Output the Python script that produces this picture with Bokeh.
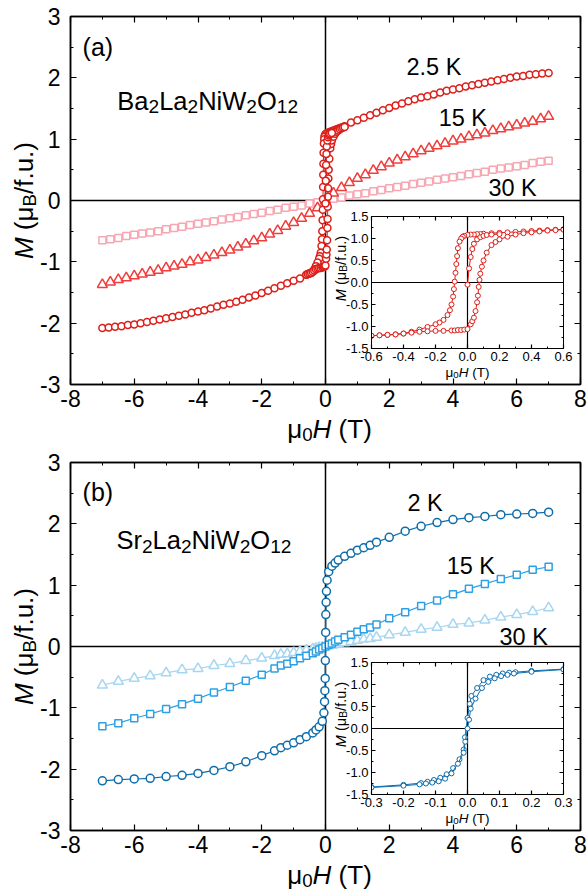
import math
from bokeh.plotting import figure
from bokeh.models import (Range1d, LinearAxis, FixedTicker, Span, Label, GridBox,
                          NumeralTickFormatter)
from bokeh.embed import file_html
from bokeh.resources import INLINE

FONT = "Liberation Sans"

# ------------------------------------------------------------------ data
# axis ticks
main_x_ticks = [-8, -6, -4, -2, 0, 2, 4, 6, 8]
main_x_minor = [-7, -5, -3, -1, 1, 3, 5, 7]
main_y_ticks = [-3, -2, -1, 0, 1, 2, 3]
main_y_minor = [-2.5, -1.5, -0.5, 0.5, 1.5, 2.5]
ins_a_x_ticks = [-0.6, -0.4, -0.2, 0.0, 0.2, 0.4, 0.6]
ins_a_x_minor = [-0.5, -0.3, -0.1, 0.1, 0.3, 0.5]
ins_b_x_ticks = [-0.3, -0.2, -0.1, 0.0, 0.1, 0.2, 0.3]
ins_b_x_minor = [-0.25, -0.15, -0.05, 0.05, 0.15, 0.25]
ins_y_ticks = [-1.5, -1.0, -0.5, 0.0, 0.5, 1.0, 1.5]
ins_y_minor = [-1.25, -0.75, -0.25, 0.25, 0.75, 1.25]

# Panel (a) Ba2La2NiW2O12, 2.5 K high-field parts
a25_neg_H = [-7.0, -6.8, -6.6, -6.4, -6.2, -6.0, -5.8, -5.6, -5.4, -5.2, -5.0, -4.8, -4.6, -4.4, -4.2, -4.0,
             -3.8, -3.6, -3.4, -3.2, -3.0, -2.8, -2.6, -2.4, -2.2, -2.0, -1.8, -1.6, -1.4, -1.2, -1.0, -0.8]
a25_neg_M = [-2.08, -2.07, -2.06, -2.05, -2.03, -2.02, -2.00, -1.98, -1.96, -1.94, -1.92, -1.90, -1.88, -1.86, -1.83, -1.81,
             -1.79, -1.76, -1.73, -1.70, -1.68, -1.65, -1.62, -1.58, -1.55, -1.51, -1.47, -1.43, -1.39, -1.35, -1.31, -1.27]
a25_pos_H = [0.8, 1.0, 1.2, 1.4, 1.6, 1.8, 2.0, 2.2, 2.4, 2.6, 2.8, 3.0, 3.2, 3.4, 3.6, 3.8,
             4.0, 4.2, 4.4, 4.6, 4.8, 5.0, 5.2, 5.4, 5.6, 5.8, 6.0, 6.2, 6.4, 6.6, 6.8, 7.0]
a25_pos_M = [1.27, 1.31, 1.35, 1.39, 1.43, 1.47, 1.51, 1.55, 1.58, 1.62, 1.65, 1.68, 1.70, 1.73, 1.76, 1.79,
             1.81, 1.83, 1.86, 1.88, 1.90, 1.92, 1.94, 1.96, 1.98, 2.00, 2.02, 2.03, 2.05, 2.06, 2.07, 2.08]

# Panel (a) 2.5 K low-field loop (inset)
a_virgin_H = [0.0, 0.01, 0.02, 0.03, 0.04, 0.06, 0.08, 0.10, 0.12, 0.15, 0.20]
a_virgin_M = [-0.05, 0.32, 0.58, 0.76, 0.88, 0.98, 1.03, 1.06, 1.08, 1.09, 1.10]
a_down_H = [0.6, 0.55, 0.5, 0.45, 0.4, 0.35, 0.3, 0.25, 0.2, 0.15, 0.1, 0.08, 0.06, 0.04, 0.02, 0.0,
            -0.02, -0.03, -0.04, -0.05, -0.06, -0.065, -0.07, -0.075, -0.08, -0.085, -0.09, -0.1, -0.11,
            -0.125, -0.15, -0.175, -0.2, -0.25, -0.3, -0.35, -0.4, -0.45, -0.5, -0.55, -0.6]
a_down_M = [1.21, 1.20, 1.19, 1.18, 1.17, 1.16, 1.15, 1.14, 1.13, 1.12, 1.11, 1.10, 1.10, 1.09, 1.09, 1.08,
            1.06, 1.04, 1.00, 0.93, 0.78, 0.60, 0.42, 0.22, 0.02, -0.15, -0.32, -0.50, -0.63,
            -0.74, -0.85, -0.91, -0.95, -1.01, -1.07, -1.12, -1.16, -1.18, -1.19, -1.20, -1.21]
a_up_H = [-0.6, -0.55, -0.5, -0.45, -0.4, -0.35, -0.3, -0.25, -0.2, -0.15, -0.1, -0.08, -0.06, -0.04, -0.02, 0.0,
          0.02, 0.03, 0.04, 0.05, 0.06, 0.065, 0.07, 0.075, 0.08, 0.09, 0.1, 0.12, 0.15, 0.175, 0.2,
          0.25, 0.3, 0.35, 0.4, 0.45, 0.5, 0.55, 0.6]
a_up_M = [-1.21, -1.20, -1.19, -1.18, -1.16, -1.14, -1.12, -1.11, -1.10, -1.10, -1.09, -1.09, -1.08, -1.08, -1.07, -1.06,
          -0.95, -0.88, -0.80, -0.65, -0.45, -0.30, -0.10, 0.06, 0.20, 0.36, 0.50, 0.68, 0.85, 0.92, 0.98,
          1.04, 1.09, 1.12, 1.14, 1.16, 1.18, 1.19, 1.20]

# Panel (a) 15 K and 30 K
a_H = [-7.0, -6.75, -6.5, -6.25, -6.0, -5.75, -5.5, -5.25, -5.0, -4.75, -4.5, -4.25, -4.0, -3.75, -3.5, -3.25,
       -3.0, -2.75, -2.5, -2.25, -2.0, -1.75, -1.5, -1.25, -1.0, -0.75, -0.5, -0.25, 0.0,
       0.25, 0.5, 0.75, 1.0, 1.25, 1.5, 1.75, 2.0, 2.25, 2.5, 2.75, 3.0, 3.25, 3.5, 3.75, 4.0,
       4.25, 4.5, 4.75, 5.0, 5.25, 5.5, 5.75, 6.0, 6.25, 6.5, 6.75, 7.0]
a15_M = [-1.37, -1.33, -1.29, -1.26, -1.23, -1.20, -1.17, -1.14, -1.10, -1.07, -1.04, -1.00, -0.97, -0.93, -0.89, -0.85,
         -0.81, -0.76, -0.71, -0.66, -0.61, -0.55, -0.49, -0.42, -0.36, -0.29, -0.21, -0.12, 0.0,
         0.12, 0.21, 0.29, 0.36, 0.42, 0.49, 0.55, 0.61, 0.66, 0.71, 0.76, 0.81, 0.85, 0.89, 0.93, 0.97,
         1.00, 1.04, 1.07, 1.10, 1.14, 1.17, 1.20, 1.23, 1.26, 1.29, 1.33, 1.37]
a30_M = [-0.65, -0.63, -0.61, -0.58, -0.56, -0.54, -0.52, -0.50, -0.47, -0.45, -0.43, -0.40, -0.38, -0.36, -0.34, -0.31,
         -0.29, -0.27, -0.24, -0.22, -0.20, -0.17, -0.15, -0.12, -0.10, -0.08, -0.05, -0.03, 0.0,
         0.03, 0.05, 0.08, 0.10, 0.12, 0.15, 0.17, 0.20, 0.22, 0.24, 0.27, 0.29, 0.31, 0.34, 0.36, 0.38,
         0.40, 0.43, 0.45, 0.47, 0.50, 0.52, 0.54, 0.56, 0.58, 0.61, 0.63, 0.65]

# Panel (b) Sr2La2NiW2O12
b2_H = [-7.0, -6.5, -6.0, -5.5, -5.0, -4.5, -4.0, -3.5, -3.0, -2.5, -2.0, -1.6, -1.4, -1.2, -1.0, -0.8, -0.6,
        -0.4, -0.3, -0.2, -0.1, -0.05, -0.03, -0.02, -0.01, -0.005,
        0.005, 0.01, 0.02, 0.03, 0.05, 0.1, 0.2, 0.3, 0.4, 0.6, 0.8, 1.0, 1.2, 1.4, 1.6, 2.0,
        2.5, 3.0, 3.5, 4.0, 4.5, 5.0, 5.5, 6.0, 6.5, 7.0]
b2_M = [-2.19, -2.17, -2.16, -2.15, -2.12, -2.10, -2.07, -2.02, -1.96, -1.88, -1.78, -1.70, -1.65, -1.61, -1.57, -1.52, -1.47,
        -1.41, -1.36, -1.31, -1.22, -1.08, -0.90, -0.72, -0.52, -0.23,
        0.23, 0.52, 0.72, 0.90, 1.08, 1.22, 1.31, 1.36, 1.41, 1.47, 1.52, 1.57, 1.61, 1.65, 1.70, 1.78,
        1.88, 1.96, 2.02, 2.07, 2.10, 2.12, 2.15, 2.16, 2.17, 2.19]
b_H = [-7.0, -6.5, -6.0, -5.5, -5.0, -4.5, -4.0, -3.5, -3.0, -2.5, -2.0, -1.6, -1.4, -1.2, -1.0, -0.8, -0.6,
       -0.4, -0.3, -0.2, -0.1, 0.0, 0.1, 0.2, 0.3, 0.4, 0.6, 0.8, 1.0, 1.2, 1.4, 1.6, 2.0,
       2.5, 3.0, 3.5, 4.0, 4.5, 5.0, 5.5, 6.0, 6.5, 7.0]
b15_M = [-1.30, -1.25, -1.17, -1.10, -1.02, -0.94, -0.85, -0.75, -0.66, -0.56, -0.46, -0.36, -0.31, -0.28, -0.24, -0.19, -0.15,
         -0.11, -0.08, -0.05, -0.03, 0.0, 0.03, 0.05, 0.08, 0.11, 0.15, 0.19, 0.24, 0.28, 0.31, 0.36, 0.46,
         0.56, 0.66, 0.75, 0.85, 0.94, 1.02, 1.10, 1.17, 1.25, 1.30]
b30_M = [-0.63, -0.57, -0.52, -0.48, -0.43, -0.38, -0.36, -0.31, -0.28, -0.23, -0.19, -0.15, -0.13, -0.12, -0.10, -0.08, -0.06,
         -0.04, -0.03, -0.02, -0.01, 0.0, 0.01, 0.02, 0.03, 0.04, 0.06, 0.08, 0.10, 0.12, 0.13, 0.15, 0.19,
         0.23, 0.28, 0.31, 0.36, 0.38, 0.43, 0.48, 0.52, 0.57, 0.63]

# Panel (b) 2 K low-field loop (inset)
b_down_H = [0.3, 0.2, 0.15, 0.13, 0.11, 0.09, 0.07, 0.05, 0.03, 0.012, 0.007, 0.0, -0.008, -0.012, -0.025,
            -0.045, -0.065, -0.085, -0.105, -0.125, -0.145, -0.2, -0.3]
b_down_M = [1.35, 1.31, 1.28, 1.27, 1.25, 1.22, 1.18, 1.10, 0.92, 0.74, 0.56, 0.24, -0.20, -0.48, -0.70,
            -0.90, -1.04, -1.12, -1.17, -1.21, -1.24, -1.28, -1.33]
b_up_H = [-0.3, -0.2, -0.15, -0.13, -0.11, -0.09, -0.07, -0.05, -0.03, -0.012, -0.007, 0.0, 0.005, 0.01, 0.025,
          0.045, 0.065, 0.085, 0.105, 0.125, 0.145, 0.2, 0.3]
b_up_M = [-1.34, -1.30, -1.27, -1.25, -1.23, -1.20, -1.14, -1.02, -0.80, -0.55, -0.30, 0.0, 0.20, 0.45, 0.68,
          0.92, 1.06, 1.14, 1.19, 1.22, 1.25, 1.29, 1.34]

# colours
A_C25, A_C15, A_C30 = "#DC1F1A", "#EF3E3C", "#F6A7B3"
B_C2, B_C15, B_C30 = "#0E6DAB", "#2DA0E3", "#A6D6F2"

# ------------------------------------------------------------------ helpers
AW = {'B': 667, 'a': 556, 'L': 556, 'N': 722, 'i': 222, 'W': 944, 'O': 778, 'S': 667, 'r': 333,
      '(': 333, ')': 333, ' ': 278, 'K': 667, '.': 278, 'μ': 576, 'H': 722, 'T': 611, 'M': 833,
      '/': 278, 'f': 278, 'u': 556, 'b': 556}


def tw(s, fs):
    return sum(AW.get(c, 556) for c in s) / 1000.0 * fs


def add_run(p, x, y, pieces, fs, angle=0.0, align="left", sub_scale=0.72, sub_drop=0.22):
    """pieces: (text, kind) with kind n=normal, i=italic, s=subscript, g=gap"""
    sizes = [fs * sub_scale if k == "s" else fs for t, k in pieces]
    total = sum(tw(t, s) for (t, k), s in zip(pieces, sizes))
    pos = -total / 2.0 if align == "center" else 0.0
    for (t, k), s in zip(pieces, sizes):
        if k != "g":
            drop = fs * sub_drop if k == "s" else 0.0
            if angle == 0:
                xo, yo = pos, -drop
            else:
                xo, yo = drop, pos
            p.add_layout(Label(x=x, y=y, x_offset=xo, y_offset=yo, text=t, angle=angle,
                               text_font=FONT, text_font_size=f"{s:.1f}px",
                               text_font_style="italic" if k == "i" else "normal",
                               text_baseline="alphabetic", text_align="left", text_color="black"))
        pos += tw(t, s)


def style_axis(ax, ticks, minor, fs, standoff, tin, tmin, show=True, fmt=None):
    ax.ticker = FixedTicker(ticks=ticks, minor_ticks=minor)
    ax.major_tick_in = tin
    ax.major_tick_out = 0
    ax.minor_tick_in = tmin
    ax.minor_tick_out = 0
    ax.major_tick_line_color = "black"
    ax.minor_tick_line_color = "black"
    ax.major_tick_line_width = 1.2
    ax.minor_tick_line_width = 1.0
    ax.axis_line_color = "black"
    ax.axis_line_width = 1.5 if tin > 5 else 1.0
    ax.axis_label = None
    if fmt is not None:
        ax.formatter = fmt
    if show:
        ax.major_label_text_font = FONT
        ax.major_label_text_font_size = f"{fs}px"
        ax.major_label_text_color = "black"
        ax.major_label_standoff = standoff
    else:
        ax.major_label_text_color = None
        ax.major_label_text_font_size = "1px"
        ax.major_label_standoff = 0


def main_fig(height, top, bottom):
    p = figure(width=587, height=height, x_range=Range1d(-8, 8), y_range=Range1d(-3, 3),
               output_backend="svg", toolbar_location=None,
               min_border_left=70, min_border_right=7, min_border_top=top, min_border_bottom=bottom)
    p.xgrid.visible = False
    p.ygrid.visible = False
    p.outline_line_color = "black"
    p.outline_line_width = 1.5
    p.background_fill_color = "white"
    p.border_fill_color = "white"
    style_axis(p.xaxis[0], main_x_ticks, main_x_minor, 23, 5, 6, 3, fmt=NumeralTickFormatter(format="0"))
    style_axis(p.yaxis[0], main_y_ticks, main_y_minor, 23, 10, 6, 3, fmt=NumeralTickFormatter(format="0"))
    ta = LinearAxis()
    style_axis(ta, main_x_ticks, main_x_minor, 23, 0, 6, 3, show=False)
    p.add_layout(ta, "above")
    ra = LinearAxis()
    style_axis(ra, main_y_ticks, main_y_minor, 23, 0, 6, 3, show=False)
    p.add_layout(ra, "right")
    p.add_layout(Span(location=0, dimension="height", line_color="black", line_width=1.5, level="underlay"))
    p.add_layout(Span(location=0, dimension="width", line_color="black", line_width=1.5, level="underlay"))
    return p


def inset_fig(xr, xt, xm, height):
    p = figure(width=241, height=height, x_range=Range1d(-xr, xr), y_range=Range1d(-1.5, 1.5),
               output_backend="svg", toolbar_location=None,
               min_border_left=37, min_border_right=12, min_border_top=10, min_border_bottom=height - 142)
    p.frame_align = False
    p.xgrid.visible = False
    p.ygrid.visible = False
    p.outline_line_color = "black"
    p.outline_line_width = 1.0
    p.background_fill_color = "white"
    p.border_fill_alpha = 0.0
    style_axis(p.xaxis[0], xt, xm, 13, 3, 4, 2, fmt=NumeralTickFormatter(format="0.0"))
    style_axis(p.yaxis[0], ins_y_ticks, ins_y_minor, 13, 3, 4, 2, fmt=NumeralTickFormatter(format="0.0"))
    ta = LinearAxis()
    style_axis(ta, xt, xm, 13, 0, 4, 2, show=False)
    p.add_layout(ta, "above")
    ra = LinearAxis()
    style_axis(ra, ins_y_ticks, ins_y_minor, 13, 0, 4, 2, show=False)
    p.add_layout(ra, "right")
    p.add_layout(Span(location=0, dimension="height", line_color="black", line_width=1.2, level="underlay"))
    p.add_layout(Span(location=0, dimension="width", line_color="black", line_width=1.2, level="underlay"))
    return p


def series(p, x, y, color, marker, size, lw=1.0, mlw=1.5):
    p.line(x, y, line_color=color, line_width=lw)
    p.scatter(x, y, marker=marker, size=size, line_color=color, fill_color="white", line_width=mlw)


# ------------------------------------------------------------------ panel (a)
pa = main_fig(447, 16, 63)
series(pa, a_H, a30_M, A_C30, "square", 7)
series(pa, a_H, a15_M, A_C15, "triangle", 10)
series(pa, a25_neg_H, a25_neg_M, A_C25, "circle", 7)
series(pa, a_down_H, a_down_M, A_C25, "circle", 7)
series(pa, a_up_H, a_up_M, A_C25, "circle", 7)
series(pa, a_virgin_H, a_virgin_M, A_C25, "circle", 7)
series(pa, a25_pos_H, a25_pos_M, A_C25, "circle", 7)
add_run(pa, -7.62, 2.51, [("(a)", "n")], 25)
add_run(pa, -6.53, 1.63, [("Ba", "n"), ("2", "s"), ("La", "n"), ("2", "s"), ("NiW", "n"), ("2", "s"),
                          ("O", "n"), ("12", "s")], 25.5, sub_scale=0.75)
add_run(pa, 2.54, 2.18, [("2.5 K", "n")], 23.5)
add_run(pa, 3.55, 1.35, [("15 K", "n")], 23.5)
add_run(pa, 5.11, 0.21, [("30 K", "n")], 23.5)

ia = inset_fig(0.6, ins_a_x_ticks, ins_a_x_minor, 176)
series(ia, a_down_H, a_down_M, A_C25, "circle", 5, lw=1.0, mlw=1.0)
series(ia, a_up_H, a_up_M, A_C25, "circle", 5, lw=1.0, mlw=1.0)
series(ia, a_virgin_H, a_virgin_M, A_C25, "circle", 5, lw=1.0, mlw=1.0)

# ------------------------------------------------------------------ panel (b)
pb = main_fig(448, 15, 65)
series(pb, b_H, b30_M, B_C30, "triangle", 10, lw=1.2)
series(pb, b_H, b15_M, B_C15, "square", 7, lw=1.2)
series(pb, b2_H, b2_M, B_C2, "circle", 8, lw=1.2)
add_run(pb, -7.62, 2.52, [("(b)", "n")], 25)
add_run(pb, -6.56, 1.73, [("Sr", "n"), ("2", "s"), ("La", "n"), ("2", "s"), ("NiW", "n"), ("2", "s"),
                          ("O", "n"), ("12", "s")], 25.5, sub_scale=0.75)
add_run(pb, 2.57, 2.34, [("2 K", "n")], 23.5)
add_run(pb, 3.80, 1.32, [("15 K", "n")], 23.5)
add_run(pb, 5.46, 0.16, [("30 K", "n")], 23.5)

ib = inset_fig(0.3, ins_b_x_ticks, ins_b_x_minor, 176)
series(ib, b_down_H, b_down_M, B_C2, "circle", 5, lw=1.0, mlw=1.0)
series(ib, b_up_H, b_up_M, B_C2, "circle", 5, lw=1.0, mlw=1.0)

# ------------------------------------------------------------------ axis titles (overlay in page pixels)
ov = figure(width=587, height=895, x_range=Range1d(0, 587), y_range=Range1d(895, 0),
            output_backend="svg", toolbar_location=None, x_axis_location=None, y_axis_location=None,
            min_border_left=0, min_border_right=0, min_border_top=0, min_border_bottom=0)
ov.frame_align = False
ov.xgrid.visible = False
ov.ygrid.visible = False
ov.outline_line_color = None
ov.background_fill_alpha = 0.0
ov.border_fill_alpha = 0.0

XT = [("μ", "n"), ("0", "s"), ("H", "i"), (" ", "g"), ("(T)", "n")]
YT = [("M", "i"), (" ", "g"), ("(μ", "n"), ("B", "s"), ("/f.u.)", "n")]
for base_y, mid_y in [(428, 200), (874, 646)]:
    add_run(ov, 329, base_y, XT, 26, align="center")
    add_run(ov, 23, mid_y, YT, 26, angle=math.pi / 2, align="center")
for base_y, mid_y in [(372, 268), (818, 714)]:
    add_run(ov, 467, base_y, XT, 13.5, align="center")
    add_run(ov, 340, mid_y, YT, 14.5, angle=math.pi / 2, align="center")

# ------------------------------------------------------------------ layout
grid = GridBox(children=[(pa, 0, 0, 3, 3), (ia, 1, 1, 1, 1), (pb, 3, 0, 3, 3), (ib, 4, 1, 1, 1),
                         (ov, 0, 0, 6, 3)],
               rows=["206px", "176px", "65px", "205px", "176px", "67px"],
               cols=["334px", "241px", "12px"], spacing=0)

open("out.html", "w").write(file_html(grid, INLINE))
